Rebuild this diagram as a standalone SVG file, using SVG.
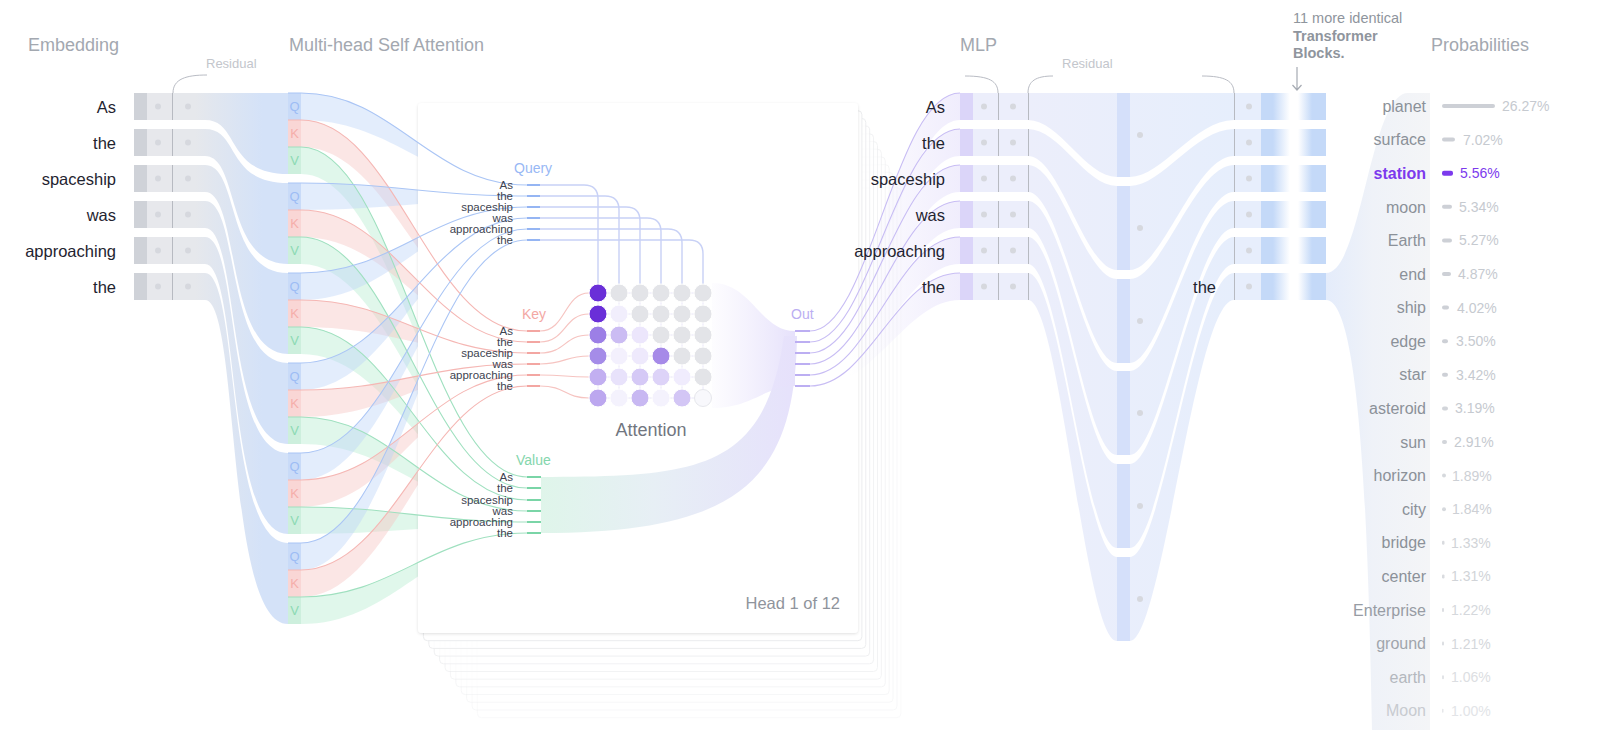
<svg xmlns="http://www.w3.org/2000/svg" width="1600" height="730" viewBox="0 0 1600 730">
  <style>
    text { font-family: "Liberation Sans", Arial, sans-serif; }
    .title { font-size: 18px; fill: #a3a8b0; }
    .res { font-size: 13px; fill: #c3c6cc; }
    .tok { font-size: 16.5px; fill: #1f2430; text-anchor: end; }
    .w { font-family: "DejaVu Sans", sans-serif; font-size: 11.5px; fill: #3d4350; text-anchor: end; }
    .lbl { font-size: 14px; }
    .qkv { font-size: 13px; text-anchor: middle; }
    .pw { font-size: 16px; text-anchor: end; }
    .pp { font-size: 14px; }
    .bracket { fill: none; stroke: #b9bcc4; stroke-width: 1; }
    .div { stroke: #b7bac1; stroke-width: 1; }
    .dot { fill: #d6d8de; }
    .qf { fill: #bcd3f7; fill-opacity: 0.42; }
    .kf { fill: #f6c3c1; fill-opacity: 0.42; }
    .vf { fill: #b6ebcf; fill-opacity: 0.42; }
    .ql { fill: none; stroke: #aac5f5; stroke-width: 1.1; }
    .kl { fill: none; stroke: #f5b7b4; stroke-width: 1.1; }
    .vl { fill: none; stroke: #9fe0bf; stroke-width: 1.1; }
    .qt { stroke: #95b5f3; stroke-width: 2; }
    .kt { stroke: #f3a6a2; stroke-width: 2; }
    .vt { stroke: #7ad5a7; stroke-width: 2; }
    .ot { stroke: #bcaef2; stroke-width: 2; }
    .qa { fill: none; stroke: #c8d1f6; stroke-width: 1.4; }
    .ka { fill: none; stroke: #f6c4c1; stroke-width: 1.2; }
    .grid { stroke: #e9e6f8; stroke-width: 1; }
    .ol { fill: none; stroke: #c8bdf4; stroke-width: 1.1; }
    .of { fill: url(#outFade); }
    .card { fill: #ffffff; filter: url(#cardShadow); }
    .back { fill: #ffffff; stroke: #ebecee; stroke-width: 1; }
    .bar { fill: #cdd0d6; }
  </style>
  <defs>
    <filter id="cardShadow" x="-5%" y="-5%" width="110%" height="110%">
      <feDropShadow dx="0" dy="1" stdDeviation="1.5" flood-color="#000000" flood-opacity="0.12"/>
    </filter>
    <linearGradient id="embFlow" gradientUnits="userSpaceOnUse" x1="195" y1="0" x2="262" y2="0">
      <stop offset="0" stop-color="#e6e8ec"/>
      <stop offset="1" stop-color="#d4e2f8"/>
    </linearGradient>
    <linearGradient id="mlpFlow" gradientUnits="userSpaceOnUse" x1="1028" y1="0" x2="1234" y2="0">
      <stop offset="0" stop-color="#eceefb"/>
      <stop offset="1" stop-color="#e6eefc"/>
    </linearGradient>
    <linearGradient id="outFade" gradientUnits="userSpaceOnUse" x1="850" y1="0" x2="960" y2="0">
      <stop offset="0" stop-color="#e6e1fb" stop-opacity="0"/>
      <stop offset="1" stop-color="#e6e1fb" stop-opacity="0.6"/>
    </linearGradient>
    <linearGradient id="funnel" gradientUnits="userSpaceOnUse" x1="712" y1="0" x2="795" y2="0">
      <stop offset="0" stop-color="#ebe7fc" stop-opacity="0.1"/>
      <stop offset="1" stop-color="#e6e1fb"/>
    </linearGradient>
    <linearGradient id="valueBand" gradientUnits="userSpaceOnUse" x1="541" y1="0" x2="790" y2="0">
      <stop offset="0" stop-color="#dff5ea"/>
      <stop offset="0.45" stop-color="#e7eff5"/>
      <stop offset="1" stop-color="#e6e2fb"/>
    </linearGradient>
    <linearGradient id="probFlow" gradientUnits="userSpaceOnUse" x1="1326" y1="0" x2="1430" y2="0">
      <stop offset="0" stop-color="#e4ecfb"/>
      <stop offset="0.45" stop-color="#eff2f8"/>
      <stop offset="1" stop-color="#f4f5f7"/>
    </linearGradient>
    <linearGradient id="fadeR" x1="0" y1="0" x2="1" y2="0">
      <stop offset="0" stop-color="#c4d9f8"/>
      <stop offset="1" stop-color="#c4d9f8" stop-opacity="0"/>
    </linearGradient>
    <linearGradient id="fadeL" x1="0" y1="0" x2="1" y2="0">
      <stop offset="0" stop-color="#c4d9f8" stop-opacity="0"/>
      <stop offset="1" stop-color="#c4d9f8"/>
    </linearGradient>
  </defs>

  <rect width="1600" height="730" fill="#ffffff"/>

  <!-- section titles -->
  <g id="titles">
    <text class="title" x="28" y="51">Embedding</text>
    <text class="title" x="289" y="51">Multi-head Self Attention</text>
    <text class="title" x="960" y="51">MLP</text>
    <text class="title" x="1431" y="51">Probabilities</text>
    <text class="res" x="206" y="68">Residual</text>
    <text class="res" x="1062" y="68">Residual</text>
    <path class="bracket" d="M207,75 C186,75 173,79 173,93"/>
    <path class="bracket" d="M965,76 C989,76 998,81 998,93"/>
    <path class="bracket" d="M1053,76 C1036,76 1028,81 1028,93"/>
    <path class="bracket" d="M1202,76 C1225,76 1234,81 1234,93"/>
  </g>

  <!-- embedding: token rows flowing into the Q/K/V column -->
  <g id="embedding">
    <g fill="url(#embFlow)">
      <path d="M134,93 H205 C240,93 225,93 288,93 V174 C225,174 240,120 205,120 H134 Z"/>
      <path d="M134,129 H205 C240,129 225,183 288,183 V264 C225,264 240,156 205,156 H134 Z"/>
      <path d="M134,165 H205 C240,165 225,273 288,273 V354 C225,354 240,192 205,192 H134 Z"/>
      <path d="M134,201 H205 C240,201 225,363 288,363 V444 C225,444 240,228 205,228 H134 Z"/>
      <path d="M134,237 H205 C240,237 225,453 288,453 V534 C225,534 240,264 205,264 H134 Z"/>
      <path d="M134,273 H205 C240,273 225,543 288,543 V624 C225,624 240,300 205,300 H134 Z"/>
    </g>
    <g fill="#cfd2d8">
      <rect x="134" y="93" width="13" height="27"/>
      <rect x="134" y="129" width="13" height="27"/>
      <rect x="134" y="165" width="13" height="27"/>
      <rect x="134" y="201" width="13" height="27"/>
      <rect x="134" y="237" width="13" height="27"/>
      <rect x="134" y="273" width="13" height="27"/>
    </g>
    <g fill="#e7e8ec">
      <rect x="147" y="93" width="26" height="27"/>
      <rect x="147" y="129" width="26" height="27"/>
      <rect x="147" y="165" width="26" height="27"/>
      <rect x="147" y="201" width="26" height="27"/>
      <rect x="147" y="237" width="26" height="27"/>
      <rect x="147" y="273" width="26" height="27"/>
    </g>
    <g class="dot">
      <circle cx="158" cy="106.5" r="3"/><circle cx="188" cy="106.5" r="3"/>
      <circle cx="158" cy="142.5" r="3"/><circle cx="188" cy="142.5" r="3"/>
      <circle cx="158" cy="178.5" r="3"/><circle cx="188" cy="178.5" r="3"/>
      <circle cx="158" cy="214.5" r="3"/><circle cx="188" cy="214.5" r="3"/>
      <circle cx="158" cy="250.5" r="3"/><circle cx="188" cy="250.5" r="3"/>
      <circle cx="158" cy="286.5" r="3"/><circle cx="188" cy="286.5" r="3"/>
    </g>
    <g class="div">
      <line x1="172.5" y1="93" x2="172.5" y2="120"/>
      <line x1="172.5" y1="129" x2="172.5" y2="156"/>
      <line x1="172.5" y1="165" x2="172.5" y2="192"/>
      <line x1="172.5" y1="201" x2="172.5" y2="228"/>
      <line x1="172.5" y1="237" x2="172.5" y2="264"/>
      <line x1="172.5" y1="273" x2="172.5" y2="300"/>
    </g>
    <text class="tok" x="116" y="112.5">As</text>
    <text class="tok" x="116" y="148.5">the</text>
    <text class="tok" x="116" y="184.5">spaceship</text>
    <text class="tok" x="116" y="220.5">was</text>
    <text class="tok" x="116" y="256.5">approaching</text>
    <text class="tok" x="116" y="292.5">the</text>
  </g>

  <!-- Q/K/V projection column -->
  <g id="qkv-column">
    <g fill="#c9dbf8">
      <rect x="288" y="93" width="13" height="27"/>
      <rect x="288" y="183" width="13" height="27"/>
      <rect x="288" y="273" width="13" height="27"/>
      <rect x="288" y="363" width="13" height="27"/>
      <rect x="288" y="453" width="13" height="27"/>
      <rect x="288" y="543" width="13" height="27"/>
    </g>
    <g fill="#f9d6d5">
      <rect x="288" y="120" width="13" height="27"/>
      <rect x="288" y="210" width="13" height="27"/>
      <rect x="288" y="300" width="13" height="27"/>
      <rect x="288" y="390" width="13" height="27"/>
      <rect x="288" y="480" width="13" height="27"/>
      <rect x="288" y="570" width="13" height="27"/>
    </g>
    <g fill="#cdefdd">
      <rect x="288" y="147" width="13" height="27"/>
      <rect x="288" y="237" width="13" height="27"/>
      <rect x="288" y="327" width="13" height="27"/>
      <rect x="288" y="417" width="13" height="27"/>
      <rect x="288" y="507" width="13" height="27"/>
      <rect x="288" y="597" width="13" height="27"/>
    </g>
    <g class="qkv" fill="#9dbdf5">
      <text x="294.5" y="111">Q</text><text x="294.5" y="201">Q</text><text x="294.5" y="291">Q</text>
      <text x="294.5" y="381">Q</text><text x="294.5" y="471">Q</text><text x="294.5" y="561">Q</text>
    </g>
    <g class="qkv" fill="#f5aeaa">
      <text x="294.5" y="138">K</text><text x="294.5" y="228">K</text><text x="294.5" y="318">K</text>
      <text x="294.5" y="408">K</text><text x="294.5" y="498">K</text><text x="294.5" y="588">K</text>
    </g>
    <g class="qkv" fill="#8cdab3">
      <text x="294.5" y="165">V</text><text x="294.5" y="255">V</text><text x="294.5" y="345">V</text>
      <text x="294.5" y="435">V</text><text x="294.5" y="525">V</text><text x="294.5" y="615">V</text>
    </g>
  </g>

  <!-- ribbons from Q/K/V segments into the head -->
  <g id="qkv-ribbons">
    <path class="qf" d="M301,93 C395,93 430,185 527,185 V188 C430,188 395,120 301,120 Z"/>
    <path class="kf" d="M301,120 C395,120 430,331 527,331 V334 C430,334 395,147 301,147 Z"/>
    <path class="vf" d="M301,147 C395,147 430,477 527,477 V480 C430,480 395,174 301,174 Z"/>
    <path class="qf" d="M301,183 C395,183 430,196 527,196 V199 C430,199 395,210 301,210 Z"/>
    <path class="kf" d="M301,210 C395,210 430,342 527,342 V345 C430,345 395,237 301,237 Z"/>
    <path class="vf" d="M301,237 C395,237 430,488 527,488 V491 C430,491 395,264 301,264 Z"/>
    <path class="qf" d="M301,273 C395,273 430,207 527,207 V210 C430,210 395,300 301,300 Z"/>
    <path class="kf" d="M301,300 C395,300 430,353 527,353 V356 C430,356 395,327 301,327 Z"/>
    <path class="vf" d="M301,327 C395,327 430,500 527,500 V503 C430,503 395,354 301,354 Z"/>
    <path class="qf" d="M301,363 C395,363 430,218 527,218 V221 C430,221 395,390 301,390 Z"/>
    <path class="kf" d="M301,390 C395,390 430,364 527,364 V367 C430,367 395,417 301,417 Z"/>
    <path class="vf" d="M301,417 C395,417 430,511 527,511 V514 C430,514 395,444 301,444 Z"/>
    <path class="qf" d="M301,453 C395,453 430,229 527,229 V232 C430,232 395,480 301,480 Z"/>
    <path class="kf" d="M301,480 C395,480 430,375 527,375 V378 C430,378 395,507 301,507 Z"/>
    <path class="vf" d="M301,507 C395,507 430,522 527,522 V525 C430,525 395,534 301,534 Z"/>
    <path class="qf" d="M301,543 C395,543 430,240 527,240 V243 C430,243 395,570 301,570 Z"/>
    <path class="kf" d="M301,570 C395,570 430,386 527,386 V389 C430,389 395,597 301,597 Z"/>
    <path class="vf" d="M301,597 C395,597 430,533 527,533 V536 C430,536 395,624 301,624 Z"/>
  </g>

  <!-- stack of attention heads -->
  <g id="head-stack">
    <rect class="back" x="477.4" y="187.7" width="423.5" height="530" rx="4" opacity="0.3"/>
    <rect class="back" x="472" y="180" width="425" height="530" rx="4" opacity="0.35"/>
    <rect class="back" x="466.6" y="172.3" width="426.5" height="530" rx="4" opacity="0.4"/>
    <rect class="back" x="461.2" y="164.6" width="428" height="530" rx="4" opacity="0.45"/>
    <rect class="back" x="455.8" y="156.9" width="429.5" height="530" rx="4" opacity="0.5"/>
    <rect class="back" x="450.4" y="149.2" width="431" height="530" rx="4" opacity="0.55"/>
    <rect class="back" x="445" y="141.5" width="432.5" height="530" rx="4" opacity="0.6"/>
    <rect class="back" x="439.6" y="133.8" width="434" height="530" rx="4" opacity="0.7"/>
    <rect class="back" x="434.2" y="126.1" width="435.5" height="530" rx="4" opacity="0.8"/>
    <rect class="back" x="428.8" y="118.4" width="437" height="530" rx="4" opacity="0.9"/>
    <rect class="back" x="423.4" y="110.7" width="438.5" height="530" rx="4"/>
    <rect class="card" x="418" y="103" width="440" height="530" rx="4"/>
  </g>

  <!-- ribbon edge lines running into the head -->
  <g id="qkv-lines">
    <path class="ql" d="M288,93 H301 C395,93 430,185 527,185"/>
    <path class="kl" d="M288,120 H301 C395,120 430,331 527,331"/>
    <path class="vl" d="M288,147 H301 C395,147 430,477 527,477"/>
    <path class="ql" d="M288,183 H301 C395,183 430,196 527,196"/>
    <path class="kl" d="M288,210 H301 C395,210 430,342 527,342"/>
    <path class="vl" d="M288,237 H301 C395,237 430,488 527,488"/>
    <path class="ql" d="M288,273 H301 C395,273 430,207 527,207"/>
    <path class="kl" d="M288,300 H301 C395,300 430,353 527,353"/>
    <path class="vl" d="M288,327 H301 C395,327 430,500 527,500"/>
    <path class="ql" d="M288,363 H301 C395,363 430,218 527,218"/>
    <path class="kl" d="M288,390 H301 C395,390 430,364 527,364"/>
    <path class="vl" d="M288,417 H301 C395,417 430,511 527,511"/>
    <path class="ql" d="M288,453 H301 C395,453 430,229 527,229"/>
    <path class="kl" d="M288,480 H301 C395,480 430,375 527,375"/>
    <path class="vl" d="M288,507 H301 C395,507 430,522 527,522"/>
    <path class="ql" d="M288,543 H301 C395,543 430,240 527,240"/>
    <path class="kl" d="M288,570 H301 C395,570 430,386 527,386"/>
    <path class="vl" d="M288,597 H301 C395,597 430,533 527,533"/>
  </g>

  <!-- contents of head 1 -->
  <g id="head-1">
    <!-- value band and matrix-to-out funnel -->
    <path fill="url(#valueBand)" d="M541,477 C700,477 765,470 784,336 L797,336 C795,480 740,533 541,533 Z"/>
    <path fill="url(#funnel)" d="M712,283 C752,283 760,331 795,331 V386 C765,386 752,408 712,408 Z"/>

    <!-- query lines down to the matrix columns -->
    <path class="qa" d="M540,185 H584 Q598,185 598,199 V284"/>
    <path class="qa" d="M540,196 H605 Q619,196 619,210 V284"/>
    <path class="qa" d="M540,207 H626 Q640,207 640,221 V284"/>
    <path class="qa" d="M540,218 H647 Q661,218 661,232 V284"/>
    <path class="qa" d="M540,229 H668 Q682,229 682,243 V284"/>
    <path class="qa" d="M540,240 H689 Q703,240 703,254 V284"/>
    <!-- key lines into the matrix rows -->
    <path class="ka" d="M540,331 C566,331 564,293 589,293"/>
    <path class="ka" d="M540,342 C566,342 564,314 589,314"/>
    <path class="ka" d="M540,353 C566,353 564,335 589,335"/>
    <path class="ka" d="M540,364 C566,364 564,356 589,356"/>
    <path class="ka" d="M540,375 C566,375 564,377 589,377"/>
    <path class="ka" d="M540,386 C566,386 564,398 589,398"/>

    <!-- attention matrix -->
    <g class="grid">
      <line x1="598" y1="284" x2="598" y2="398"/><line x1="619" y1="284" x2="619" y2="398"/>
      <line x1="640" y1="284" x2="640" y2="398"/><line x1="661" y1="284" x2="661" y2="398"/>
      <line x1="682" y1="284" x2="682" y2="398"/><line x1="703" y1="284" x2="703" y2="398"/>
      <line x1="589" y1="293" x2="703" y2="293"/><line x1="589" y1="314" x2="703" y2="314"/>
      <line x1="589" y1="335" x2="703" y2="335"/><line x1="589" y1="356" x2="703" y2="356"/>
      <line x1="589" y1="377" x2="703" y2="377"/><line x1="589" y1="398" x2="703" y2="398"/>
    </g>
    <g stroke="#ffffff" stroke-width="1">
      <circle cx="598" cy="293" r="9" fill="#6a2fd8"/>
      <circle cx="619" cy="293" r="9" fill="#e3e4e8"/>
      <circle cx="640" cy="293" r="9" fill="#e3e4e8"/>
      <circle cx="661" cy="293" r="9" fill="#e3e4e8"/>
      <circle cx="682" cy="293" r="9" fill="#e3e4e8"/>
      <circle cx="703" cy="293" r="9" fill="#e3e4e8"/>

      <circle cx="598" cy="314" r="9" fill="#6a2fd8"/>
      <circle cx="619" cy="314" r="9" fill="#f1eefc"/>
      <circle cx="640" cy="314" r="9" fill="#e3e4e8"/>
      <circle cx="661" cy="314" r="9" fill="#e3e4e8"/>
      <circle cx="682" cy="314" r="9" fill="#e3e4e8"/>
      <circle cx="703" cy="314" r="9" fill="#e3e4e8"/>

      <circle cx="598" cy="335" r="9" fill="#9c7fe6"/>
      <circle cx="619" cy="335" r="9" fill="#cbbcf3"/>
      <circle cx="640" cy="335" r="9" fill="#ece6fc"/>
      <circle cx="661" cy="335" r="9" fill="#e3e4e8"/>
      <circle cx="682" cy="335" r="9" fill="#e3e4e8"/>
      <circle cx="703" cy="335" r="9" fill="#e3e4e8"/>

      <circle cx="598" cy="356" r="9" fill="#a58ce8"/>
      <circle cx="619" cy="356" r="9" fill="#f3f0fd"/>
      <circle cx="640" cy="356" r="9" fill="#eee9fc"/>
      <circle cx="661" cy="356" r="9" fill="#a68ae8"/>
      <circle cx="682" cy="356" r="9" fill="#e3e4e8"/>
      <circle cx="703" cy="356" r="9" fill="#e3e4e8"/>

      <circle cx="598" cy="377" r="9" fill="#c2aff1"/>
      <circle cx="619" cy="377" r="9" fill="#e8e2fb"/>
      <circle cx="640" cy="377" r="9" fill="#d5c9f6"/>
      <circle cx="661" cy="377" r="9" fill="#ddd3f8"/>
      <circle cx="682" cy="377" r="9" fill="#f0ecfd"/>
      <circle cx="703" cy="377" r="9" fill="#e3e4e8"/>

      <circle cx="598" cy="398" r="9" fill="#bca7ef"/>
      <circle cx="619" cy="398" r="9" fill="#f4f2fd"/>
      <circle cx="640" cy="398" r="9" fill="#c8b8f2"/>
      <circle cx="661" cy="398" r="9" fill="#f4f2fd"/>
      <circle cx="682" cy="398" r="9" fill="#d3c6f5"/>
      <circle cx="703" cy="398" r="8.5" fill="#f8f8fc" stroke="#e6e7ec"/>
    </g>

    <!-- ticks -->
    <g>
      <line class="qt" x1="527" y1="185" x2="540" y2="185"/><line class="qt" x1="527" y1="196" x2="540" y2="196"/>
      <line class="qt" x1="527" y1="207" x2="540" y2="207"/><line class="qt" x1="527" y1="218" x2="540" y2="218"/>
      <line class="qt" x1="527" y1="229" x2="540" y2="229"/><line class="qt" x1="527" y1="240" x2="540" y2="240"/>
      <line class="kt" x1="527" y1="331" x2="540" y2="331"/><line class="kt" x1="527" y1="342" x2="540" y2="342"/>
      <line class="kt" x1="527" y1="353" x2="540" y2="353"/><line class="kt" x1="527" y1="364" x2="540" y2="364"/>
      <line class="kt" x1="527" y1="375" x2="540" y2="375"/><line class="kt" x1="527" y1="386" x2="540" y2="386"/>
      <line class="vt" x1="527" y1="477" x2="541" y2="477"/><line class="vt" x1="527" y1="488" x2="541" y2="488"/>
      <line class="vt" x1="527" y1="500" x2="541" y2="500"/><line class="vt" x1="527" y1="511" x2="541" y2="511"/>
      <line class="vt" x1="527" y1="522" x2="541" y2="522"/><line class="vt" x1="527" y1="533" x2="541" y2="533"/>
      <line class="ot" x1="795" y1="331" x2="810" y2="331"/><line class="ot" x1="795" y1="342" x2="810" y2="342"/>
      <line class="ot" x1="795" y1="353" x2="810" y2="353"/><line class="ot" x1="795" y1="364" x2="810" y2="364"/>
      <line class="ot" x1="795" y1="375" x2="810" y2="375"/><line class="ot" x1="795" y1="386" x2="810" y2="386"/>
    </g>

    <!-- labels -->
    <text class="lbl" x="514" y="173" fill="#98b8f5">Query</text>
    <text class="lbl" x="522" y="319" fill="#f3a8a4">Key</text>
    <text class="lbl" x="516" y="465" fill="#85d6ad">Value</text>
    <text class="lbl" x="791" y="319" fill="#bbaef2">Out</text>
    <g class="w">
      <text x="513" y="189">As</text><text x="513" y="200">the</text><text x="513" y="211">spaceship</text>
      <text x="513" y="222">was</text><text x="513" y="233">approaching</text><text x="513" y="244">the</text>
      <text x="513" y="335">As</text><text x="513" y="346">the</text><text x="513" y="357">spaceship</text>
      <text x="513" y="368">was</text><text x="513" y="379">approaching</text><text x="513" y="390">the</text>
      <text x="513" y="481">As</text><text x="513" y="492">the</text><text x="513" y="504">spaceship</text>
      <text x="513" y="515">was</text><text x="513" y="526">approaching</text><text x="513" y="537">the</text>
    </g>
    <text x="651" y="436" font-size="18" fill="#71767f" text-anchor="middle">Attention</text>
    <text x="840" y="609" font-size="16.5" fill="#8f949c" text-anchor="end">Head 1 of 12</text>
  </g>

  <!-- head output into the MLP rows -->
  <g id="out-connectors">
    <path class="of" d="M810,331 C870,331 895,93 960,93 V120 C905,120 875,334 810,334 Z"/>
    <path class="of" d="M810,342 C870,342 895,129 960,129 V156 C905,156 875,345 810,345 Z"/>
    <path class="of" d="M810,353 C870,353 895,165 960,165 V192 C905,192 875,356 810,356 Z"/>
    <path class="of" d="M810,364 C870,364 895,201 960,201 V228 C905,228 875,367 810,367 Z"/>
    <path class="of" d="M810,375 C870,375 895,237 960,237 V264 C905,264 875,378 810,378 Z"/>
    <path class="of" d="M810,386 C870,386 895,273 960,273 V300 C905,300 875,389 810,389 Z"/>
    <path class="ol" d="M810,331 C870,331 895,93 960,93"/>
    <path class="ol" d="M810,342 C870,342 895,129 960,129"/>
    <path class="ol" d="M810,353 C870,353 895,165 960,165"/>
    <path class="ol" d="M810,364 C870,364 895,201 960,201"/>
    <path class="ol" d="M810,375 C870,375 895,237 960,237"/>
    <path class="ol" d="M810,386 C870,386 895,273 960,273"/>
  </g>

  <!-- MLP block -->
  <g id="mlp">
    <g fill="url(#mlpFlow)">
      <path d="M973,93 H1028 C1060,93 1085,93 1117,93 H1130 C1162,93 1195,93 1234,93 V120 C1195,120 1162,177 1130,177 H1117 C1085,177 1060,120 1028,120 H973 Z"/>
      <path d="M973,129 H1028 C1060,129 1085,186 1117,186 H1130 C1162,186 1195,129 1234,129 V156 C1195,156 1162,270 1130,270 H1117 C1085,270 1060,156 1028,156 H973 Z"/>
      <path d="M973,165 H1028 C1060,165 1085,279 1117,279 H1130 C1162,279 1195,165 1234,165 V192 C1195,192 1162,363 1130,363 H1117 C1085,363 1060,192 1028,192 H973 Z"/>
      <path d="M973,201 H1028 C1060,201 1085,371 1117,371 H1130 C1162,371 1195,201 1234,201 V228 C1195,228 1162,455 1130,455 H1117 C1085,455 1060,228 1028,228 H973 Z"/>
      <path d="M973,237 H1028 C1060,237 1085,464 1117,464 H1130 C1162,464 1195,237 1234,237 V264 C1195,264 1162,548 1130,548 H1117 C1085,548 1060,264 1028,264 H973 Z"/>
      <path d="M973,273 H1028 C1060,273 1085,557 1117,557 H1130 C1162,557 1195,273 1234,273 V300 C1195,300 1162,641 1130,641 H1117 C1085,641 1060,300 1028,300 H973 Z"/>
    </g>
    <g fill="#d5e0fa">
      <rect x="1117" y="93" width="13" height="84"/>
      <rect x="1117" y="186" width="13" height="84"/>
      <rect x="1117" y="279" width="13" height="84"/>
      <rect x="1117" y="371" width="13" height="84"/>
      <rect x="1117" y="464" width="13" height="84"/>
      <rect x="1117" y="557" width="13" height="84"/>
    </g>
    <g class="dot">
      <circle cx="1140" cy="135" r="3"/><circle cx="1140" cy="228" r="3"/><circle cx="1140" cy="321" r="3"/>
      <circle cx="1140" cy="413" r="3"/><circle cx="1140" cy="506" r="3"/><circle cx="1140" cy="599" r="3"/>
    </g>
    <g fill="#dbd5f9">
      <rect x="960" y="93" width="13" height="27"/>
      <rect x="960" y="129" width="13" height="27"/>
      <rect x="960" y="165" width="13" height="27"/>
      <rect x="960" y="201" width="13" height="27"/>
      <rect x="960" y="237" width="13" height="27"/>
      <rect x="960" y="273" width="13" height="27"/>
    </g>
    <g class="dot">
      <circle cx="984" cy="106.5" r="3"/><circle cx="1013" cy="106.5" r="3"/>
      <circle cx="984" cy="142.5" r="3"/><circle cx="1013" cy="142.5" r="3"/>
      <circle cx="984" cy="178.5" r="3"/><circle cx="1013" cy="178.5" r="3"/>
      <circle cx="984" cy="214.5" r="3"/><circle cx="1013" cy="214.5" r="3"/>
      <circle cx="984" cy="250.5" r="3"/><circle cx="1013" cy="250.5" r="3"/>
      <circle cx="984" cy="286.5" r="3"/><circle cx="1013" cy="286.5" r="3"/>
    </g>
    <g class="div">
      <line x1="998.5" y1="93" x2="998.5" y2="120"/><line x1="1028.5" y1="93" x2="1028.5" y2="120"/>
      <line x1="998.5" y1="129" x2="998.5" y2="156"/><line x1="1028.5" y1="129" x2="1028.5" y2="156"/>
      <line x1="998.5" y1="165" x2="998.5" y2="192"/><line x1="1028.5" y1="165" x2="1028.5" y2="192"/>
      <line x1="998.5" y1="201" x2="998.5" y2="228"/><line x1="1028.5" y1="201" x2="1028.5" y2="228"/>
      <line x1="998.5" y1="237" x2="998.5" y2="264"/><line x1="1028.5" y1="237" x2="1028.5" y2="264"/>
      <line x1="998.5" y1="273" x2="998.5" y2="300"/><line x1="1028.5" y1="273" x2="1028.5" y2="300"/>
    </g>
    <text class="tok" x="945" y="112.5">As</text>
    <text class="tok" x="945" y="148.5">the</text>
    <text class="tok" x="945" y="184.5">spaceship</text>
    <text class="tok" x="945" y="220.5">was</text>
    <text class="tok" x="945" y="256.5">approaching</text>
    <text class="tok" x="945" y="292.5">the</text>
    <text class="tok" x="1216" y="292.5">the</text>
  </g>

  <!-- final rows, remaining blocks and the output distribution -->
  <g id="probabilities">
    <path fill="url(#probFlow)" d="M1326,273 C1362,273 1370,93 1408,93 H1430 V730 H1372 C1368,520 1360,300 1326,300 Z"/>
  </g>

  <g id="block-exit">
    <g fill="#e7eefc">
      <rect x="1234" y="93" width="27" height="27"/>
      <rect x="1234" y="129" width="27" height="27"/>
      <rect x="1234" y="165" width="27" height="27"/>
      <rect x="1234" y="201" width="27" height="27"/>
      <rect x="1234" y="237" width="27" height="27"/>
      <rect x="1234" y="273" width="27" height="27"/>
    </g>
    <g class="dot">
      <circle cx="1249" cy="106.5" r="3"/><circle cx="1249" cy="142.5" r="3"/><circle cx="1249" cy="178.5" r="3"/>
      <circle cx="1249" cy="214.5" r="3"/><circle cx="1249" cy="250.5" r="3"/><circle cx="1249" cy="286.5" r="3"/>
    </g>
    <g class="div">
      <line x1="1234.5" y1="93" x2="1234.5" y2="120"/><line x1="1234.5" y1="129" x2="1234.5" y2="156"/>
      <line x1="1234.5" y1="165" x2="1234.5" y2="192"/><line x1="1234.5" y1="201" x2="1234.5" y2="228"/>
      <line x1="1234.5" y1="237" x2="1234.5" y2="264"/><line x1="1234.5" y1="273" x2="1234.5" y2="300"/>
    </g>
    <g fill="#c4d9f8">
      <rect x="1261" y="93" width="12" height="27"/><rect x="1312" y="93" width="14" height="27"/>
      <rect x="1261" y="129" width="12" height="27"/><rect x="1312" y="129" width="14" height="27"/>
      <rect x="1261" y="165" width="12" height="27"/><rect x="1312" y="165" width="14" height="27"/>
      <rect x="1261" y="201" width="12" height="27"/><rect x="1312" y="201" width="14" height="27"/>
      <rect x="1261" y="237" width="12" height="27"/><rect x="1312" y="237" width="14" height="27"/>
      <rect x="1261" y="273" width="12" height="27"/><rect x="1312" y="273" width="14" height="27"/>
    </g>
    <g fill="url(#fadeR)">
      <rect x="1273" y="93" width="17" height="27"/><rect x="1273" y="129" width="17" height="27"/>
      <rect x="1273" y="165" width="17" height="27"/><rect x="1273" y="201" width="17" height="27"/>
      <rect x="1273" y="237" width="17" height="27"/><rect x="1273" y="273" width="17" height="27"/>
    </g>
    <g fill="url(#fadeL)">
      <rect x="1298" y="93" width="14" height="27"/><rect x="1298" y="129" width="14" height="27"/>
      <rect x="1298" y="165" width="14" height="27"/><rect x="1298" y="201" width="14" height="27"/>
      <rect x="1298" y="237" width="14" height="27"/><rect x="1298" y="273" width="14" height="27"/>
    </g>
    <text x="1293" y="23" font-size="14.5" fill="#8f959d">11 more identical</text>
    <text x="1293" y="41" font-size="14.5" font-weight="bold" fill="#8f959d">Transformer</text>
    <text x="1293" y="58" font-size="14.5" font-weight="bold" fill="#8f959d">Blocks.</text>
    <path d="M1297,67 V90 M1292.5,85 L1297,90 L1301.5,85" fill="none" stroke="#a6abb3" stroke-width="1.2"/>
  </g>

  <g id="prob-list">
    <g class="pw" fill="#8b9199">
      <text x="1426" y="111.5">planet</text>
      <text x="1426" y="145">surface</text>
      <text x="1426" y="178.5" font-weight="bold" fill="#7c3aed">station</text>
      <text x="1426" y="212.5">moon</text>
      <text x="1426" y="246">Earth</text>
      <text x="1426" y="279.5">end</text>
      <text x="1426" y="313">ship</text>
      <text x="1426" y="346.5">edge</text>
      <text x="1426" y="380">star</text>
      <text x="1426" y="414">asteroid</text>
      <text x="1426" y="447.5">sun</text>
      <text x="1426" y="481">horizon</text>
      <text x="1426" y="514.5">city</text>
      <text x="1426" y="548">bridge</text>
      <text x="1426" y="582">center</text>
      <text x="1426" y="615.5" fill="#979ca4">Enterprise</text>
      <text x="1426" y="649" fill="#a0a5ac">ground</text>
      <text x="1426" y="682.5" fill="#b4b8be">earth</text>
      <text x="1426" y="716" fill="#c8cbd0">Moon</text>
    </g>
    <g class="bar">
      <rect x="1442" y="104" width="53" height="4" rx="2"/>
      <rect x="1442" y="137.6" width="13" height="4" rx="2"/>
      <rect x="1442" y="170.7" width="11" height="5" rx="2" fill="#7c3aed"/>
      <rect x="1442" y="204.8" width="10" height="4" rx="2"/>
      <rect x="1442" y="238.4" width="10" height="4" rx="2"/>
      <rect x="1442" y="272" width="9" height="4" rx="2"/>
      <rect x="1442" y="305.6" width="7" height="4" rx="2"/>
      <rect x="1442" y="339.2" width="6" height="4" rx="2"/>
      <rect x="1442" y="372.8" width="6" height="4" rx="2"/>
      <rect x="1442" y="406.4" width="6" height="4" rx="2" fill="#d2d5da"/>
      <rect x="1442" y="440" width="5" height="4" rx="2" fill="#d2d5da"/>
      <rect x="1442" y="473.6" width="4" height="4" rx="2" fill="#d6d9dd"/>
      <rect x="1442" y="507.2" width="4" height="4" rx="2" fill="#d6d9dd"/>
      <rect x="1442" y="540.8" width="2.5" height="4" rx="1.2" fill="#d9dbdf"/>
      <rect x="1442" y="574.4" width="2.5" height="4" rx="1.2" fill="#d9dbdf"/>
      <rect x="1442" y="608" width="2" height="4" rx="1" fill="#dcdee2"/>
      <rect x="1442" y="641.6" width="2" height="4" rx="1" fill="#dcdee2"/>
      <rect x="1442" y="675.2" width="2" height="4" rx="1" fill="#e2e4e7"/>
      <rect x="1442" y="708.8" width="1.5" height="4" rx="0.7" fill="#e6e7ea"/>
    </g>
    <g class="pp" fill="#c6cad0">
      <text x="1502" y="111">26.27%</text>
      <text x="1463" y="144.6">7.02%</text>
      <text x="1460" y="178.2" fill="#7c3aed">5.56%</text>
      <text x="1459" y="211.8">5.34%</text>
      <text x="1459" y="245.4">5.27%</text>
      <text x="1458" y="279">4.87%</text>
      <text x="1457" y="312.6">4.02%</text>
      <text x="1456" y="346.2">3.50%</text>
      <text x="1456" y="379.8">3.42%</text>
      <text x="1455" y="413.4">3.19%</text>
      <text x="1454" y="447">2.91%</text>
      <text x="1452" y="480.6" fill="#cdd0d5">1.89%</text>
      <text x="1452" y="514.2" fill="#cdd0d5">1.84%</text>
      <text x="1451" y="547.8" fill="#d1d4d8">1.33%</text>
      <text x="1451" y="581.4" fill="#d1d4d8">1.31%</text>
      <text x="1451" y="615" fill="#d5d8dc">1.22%</text>
      <text x="1451" y="648.6" fill="#d5d8dc">1.21%</text>
      <text x="1451" y="682.2" fill="#dcdee2">1.06%</text>
      <text x="1451" y="715.8" fill="#e2e4e7">1.00%</text>
    </g>
  </g>
</svg>
